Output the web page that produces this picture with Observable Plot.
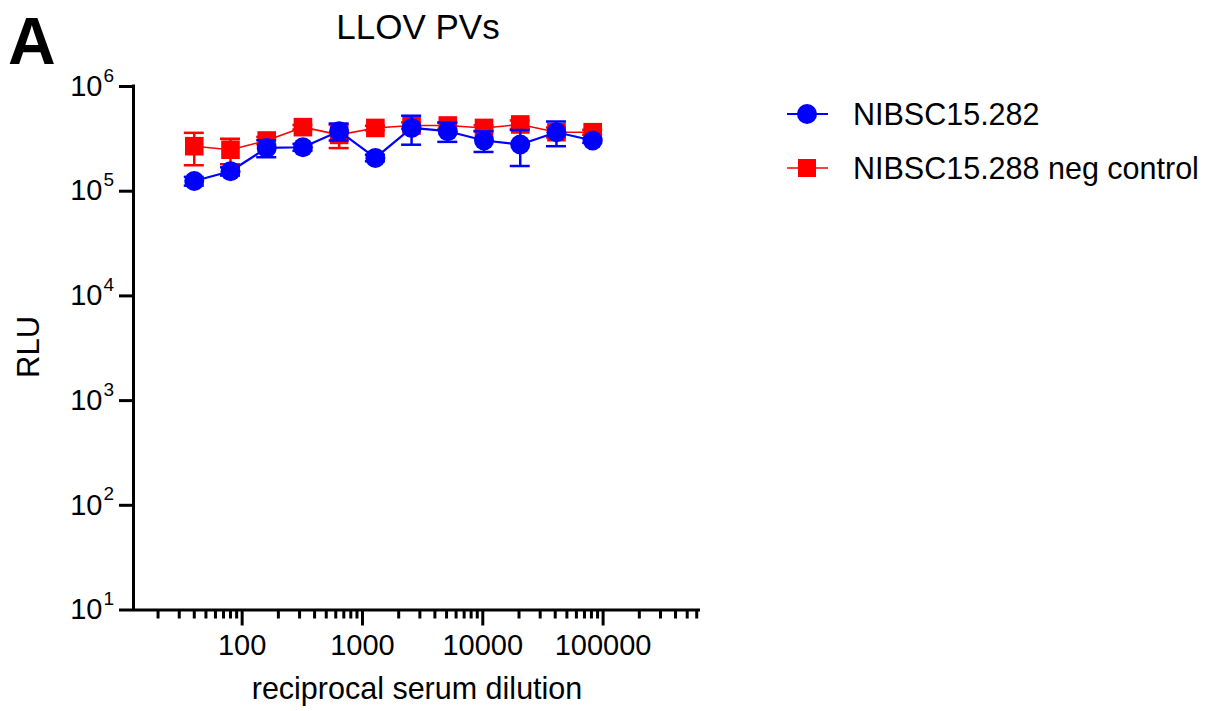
<!DOCTYPE html>
<html>
<head>
<meta charset="utf-8">
<script src="https://cdn.jsdelivr.net/npm/d3@7"></script>
<script src="https://cdn.jsdelivr.net/npm/@observablehq/plot@0.6"></script>
<style>
  html, body { margin: 0; padding: 0; background: #fff; }
  #wrap { position: relative; width: 1210px; height: 711px; font-family: "Liberation Sans", Arial, sans-serif; }
  #wrap svg { position: absolute; left: 0; top: 0; }
</style>
</head>
<body>
<div id="wrap"></div>
<script>
// ---- data ----
const dilutions = [40, 80, 160, 320, 640, 1280, 2560, 5120, 10240, 20480, 40960, 81920];
const posMean = [125000, 155000, 259000, 263000, 374000, 208000, 402000, 374000, 305000, 279000, 366000, 305000];
const posSd   = [12000, 14000, 48000, 20000, 69000, 15000, 124000, 78000, 68000, 105000, 97000, 15000];
const negMean = [269000, 249000, 305000, 409000, 345000, 402000, 424000, 424000, 402000, 434000, 366000, 366000];
const negSd   = [92000, 68000, 25000, 20000, 87000, 20000, 30000, 30000, 25000, 40000, 40000, 20000];
const seriesNames = ["NIBSC15.282", "NIBSC15.288 neg control"];
const xMajorTicks = [100, 1000, 10000, 100000];
const xMinorTicks = [20, 30, 40, 50, 60, 70, 80, 90,
  200, 300, 400, 500, 600, 700, 800, 900,
  2000, 3000, 4000, 5000, 6000, 7000, 8000, 9000,
  20000, 30000, 40000, 50000, 60000, 70000, 80000, 90000,
  200000, 300000, 400000, 500000, 600000];
const yTicks = [10, 100, 1000, 10000, 100000, 1000000];
const yExponents = ["1", "2", "3", "4", "5", "6"];

const pos = dilutions.map((x, i) => ({x, m: posMean[i], sd: posSd[i]}));
const neg = dilutions.map((x, i) => ({x, m: negMean[i], sd: negSd[i]}));
const yTickData = yTicks.map((v, i) => ({v, e: yExponents[i]}));

const xDomain = [12.5, 645000];
const capF = Math.pow(10, 10 / 120.3);
const BLUE = "#0000ff", RED = "#ff0000";
const FONT = "Liberation Sans, Arial, sans-serif";

const chart = Plot.plot({
  width: 1210, height: 711,
  marginLeft: 133, marginRight: 510, marginTop: 86, marginBottom: 101.5,
  style: {fontFamily: FONT, background: "transparent", color: "#000"},
  x: {type: "log", domain: xDomain, axis: null},
  y: {type: "log", domain: [10, 1e6], axis: null},
  marks: [
    // axes
    Plot.axisX(xMinorTicks, {tickSize: 9, strokeWidth: 3, tickFormat: () => "", label: null}),
    Plot.axisX(xMajorTicks, {tickSize: 16, strokeWidth: 3, tickPadding: 8, fontSize: 29, tickFormat: d => String(d), label: null}),
    Plot.axisY(yTicks, {tickSize: 14, strokeWidth: 3, tickFormat: () => "", label: null}),
    Plot.text(yTickData, {y: "v", frameAnchor: "left", dx: -31, text: () => "10", textAnchor: "end", fontSize: 29, fill: "#000"}),
    Plot.text(yTickData, {y: "v", frameAnchor: "left", dx: -30, dy: -11, text: "e", textAnchor: "start", fontSize: 19, fill: "#000"}),
    Plot.ruleX([xDomain[0]], {y1: 10, y2: 1e6, strokeWidth: 3, strokeLinecap: "square", stroke: "#000"}),
    Plot.ruleY([10], {x1: xDomain[0], x2: xDomain[1], strokeWidth: 3, stroke: "#000"}),
    // negative control (red)
    Plot.line(neg, {x: "x", y: "m", stroke: RED, strokeWidth: 1.6}),
    Plot.ruleX(neg, {x: "x", y1: d => d.m - d.sd, y2: d => d.m + d.sd, stroke: RED, strokeWidth: 2.5}),
    Plot.ruleY(neg, {y: d => d.m + d.sd, x1: d => d.x / capF, x2: d => d.x * capF, stroke: RED, strokeWidth: 2.5}),
    Plot.ruleY(neg, {y: d => d.m - d.sd, x1: d => d.x / capF, x2: d => d.x * capF, stroke: RED, strokeWidth: 2.5}),
    Plot.dot(neg, {x: "x", y: "m", symbol: "square", r: 10.5, fill: RED, stroke: null}),
    // positive (blue)
    Plot.line(pos, {x: "x", y: "m", stroke: BLUE, strokeWidth: 2.2}),
    Plot.ruleX(pos, {x: "x", y1: d => d.m - d.sd, y2: d => d.m + d.sd, stroke: BLUE, strokeWidth: 2.5}),
    Plot.ruleY(pos, {y: d => d.m + d.sd, x1: d => d.x / capF, x2: d => d.x * capF, stroke: BLUE, strokeWidth: 2.5}),
    Plot.ruleY(pos, {y: d => d.m - d.sd, x1: d => d.x / capF, x2: d => d.x * capF, stroke: BLUE, strokeWidth: 2.5}),
    Plot.dot(pos, {x: "x", y: "m", r: 10, fill: BLUE, stroke: null})
  ]
});
document.getElementById("wrap").appendChild(chart);

// overlay texts and legend
const ov = d3.select("#wrap").append("svg")
  .attr("width", 1210).attr("height", 711)
  .style("pointer-events", "none")
  .attr("font-family", FONT);

ov.append("text").attr("x", 8).attr("y", 64).attr("font-size", 66).attr("font-weight", "bold").text("A");
ov.append("text").attr("x", 418).attr("y", 39).attr("font-size", 35).attr("text-anchor", "middle").text("LLOV PVs");
ov.append("text").attr("transform", "translate(39,347) rotate(-90)").attr("font-size", 31).attr("text-anchor", "middle").text("RLU");
ov.append("text").attr("x", 417).attr("y", 699).attr("font-size", 30.5).attr("text-anchor", "middle").text("reciprocal serum dilution");

// legend
const lg = ov.append("g");
lg.append("line").attr("x1", 787).attr("x2", 828).attr("y1", 114).attr("y2", 114).attr("stroke", BLUE).attr("stroke-width", 2);
lg.append("circle").attr("cx", 807).attr("cy", 114).attr("r", 10).attr("fill", BLUE);
lg.append("text").attr("x", 853).attr("y", 124.5).attr("font-size", 30.5).text(seriesNames[0]);
lg.append("line").attr("x1", 787).attr("x2", 828).attr("y1", 168).attr("y2", 168).attr("stroke", RED).attr("stroke-width", 1.6);
lg.append("rect").attr("x", 798).attr("y", 159).attr("width", 18).attr("height", 18).attr("fill", RED);
lg.append("text").attr("x", 853).attr("y", 178.5).attr("font-size", 30.5).text(seriesNames[1]);
</script>
</body>
</html>
